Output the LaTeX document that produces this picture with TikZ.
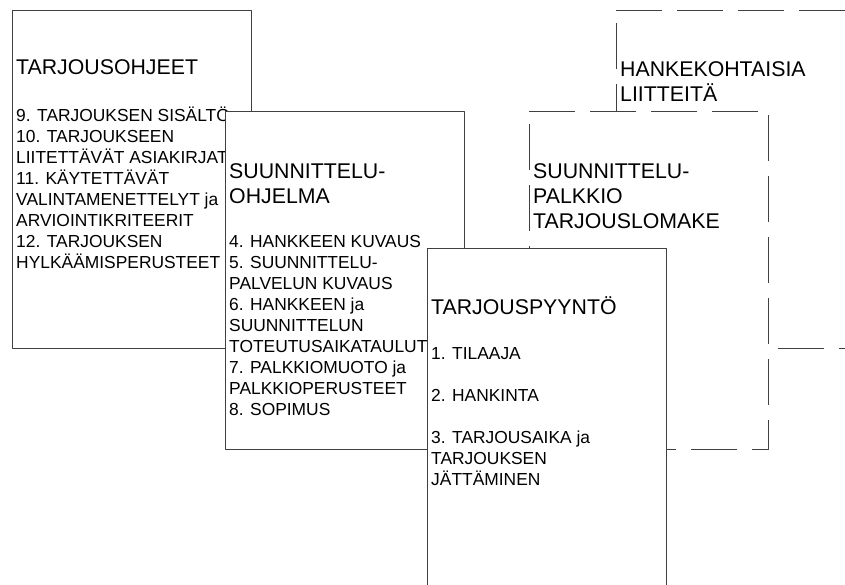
\documentclass[tikz,border=0pt]{standalone}
\usepackage{fontspec}
\setmainfont{Liberation Sans}
\tikzset{
 sheet/.style={draw=black!75,fill=white,line width=0.8pt,anchor=north west,inner sep=0pt,minimum width=239pt,minimum height=338pt},
 dsheet/.style={sheet,draw=none},
 dline/.style={draw=black!75,line width=0.8pt,dash pattern=on 46pt off 15pt},
 ttl/.style={anchor=base west,align=left,inner sep=0pt,font=\fontsize{21.3}{25}\selectfont},
 itm/.style={anchor=base west,align=left,inner sep=0pt,font=\fontsize{17.4}{21}\selectfont}
}
\begin{document}
\begin{tikzpicture}[x=1pt,y=-1pt,line join=round]
 \useasboundingbox (0,0) rectangle (845,584);
 \clip (0,0) rectangle (845,584);
 % base west = baseline of the last line
 % tarjousohjeet
 \node[sheet] (ohjeet) at (11.5,10) {};
 \node[ttl] (ohjeetT) at (16,74) {TARJOUSOHJEET};
 \node[itm] (ohjeetL) at (16,268) {9. TARJOUKSEN SISÄLTÖ\\10. TARJOUKSEEN\\LIITETTÄVÄT ASIAKIRJAT\\11. KÄYTETTÄVÄT\\VALINTAMENETTELYT ja\\ARVIOINTIKRITEERIT\\12. TARJOUKSEN\\HYLKÄÄMISPERUSTEET};
 % hankekohtaisia liitteita, katkoviiva
 \node[dsheet] (liitteet) at (616,10) {};
 \draw[dline] (liitteet.north west)--(liitteet.north east)--(liitteet.south east)--(liitteet.south west)--cycle;
 \node[ttl] (liitteetT) at (620,101) {HANKEKOHTAISIA\\LIITTEITÄ};
 % palkkiolomake, katkoviiva
 \node[dsheet] (palkkio) at (529,111) {};
 \draw[dline] (palkkio.north west)--(palkkio.north east)--(palkkio.south east)--(palkkio.south west)--cycle;
 \node[ttl] (palkkioT) at (533,228) {SUUNNITTELU-\\PALKKIO\\TARJOUSLOMAKE};
 % suunnitteluohjelma
 \node[sheet] (ohjelma) at (225,111) {};
 \node[ttl] (ohjelmaT) at (229,203) {SUUNNITTELU-\\OHJELMA};
 \node[itm] (ohjelmaL) at (229,415) {4. HANKKEEN KUVAUS\\5. SUUNNITTELU-\\PALVELUN KUVAUS\\6. HANKKEEN ja\\SUUNNITTELUN\\TOTEUTUSAIKATAULUT\\7. PALKKIOMUOTO ja\\PALKKIOPERUSTEET\\8. SOPIMUS};
 % tarjouspyynto
 \node[sheet] (pyynto) at (427,248) {};
 \node[ttl] (pyyntoT) at (431,314) {TARJOUSPYYNTÖ};
 \node[itm] (pyyntoL) at (431,485) {1. TILAAJA\\[21pt]2. HANKINTA\\[21pt]3. TARJOUSAIKA ja\\TARJOUKSEN\\JÄTTÄMINEN};
\end{tikzpicture}
\end{document}
